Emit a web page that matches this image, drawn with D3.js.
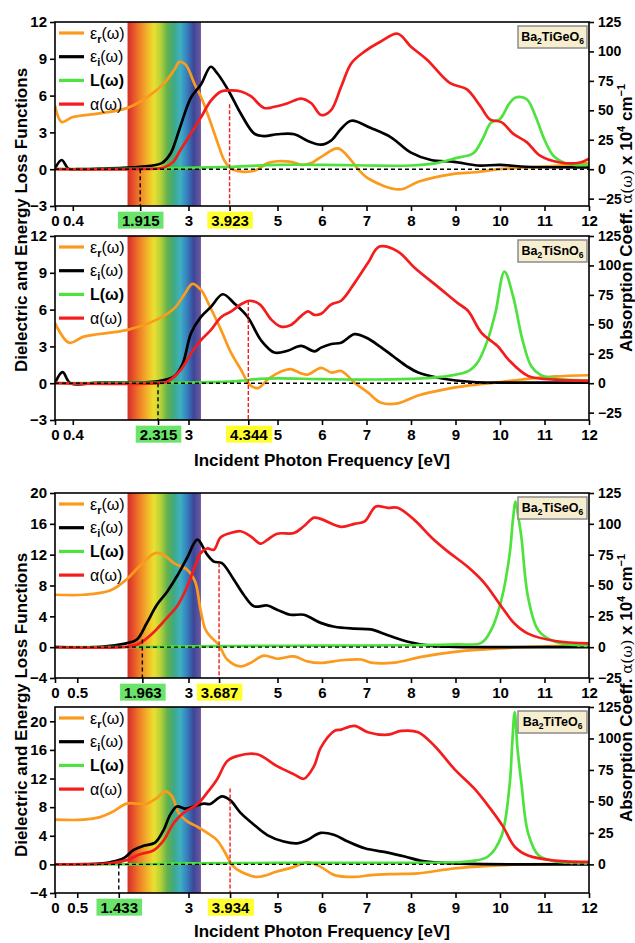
<!DOCTYPE html>
<html>
<head>
<meta charset="utf-8">
<script src="https://cdn.jsdelivr.net/npm/d3@7"></script>
<style>
  body { margin: 0; background: #fff; }
  text { font-family: Arial, "Liberation Sans", sans-serif; }
</style>
</head>
<body>
<div id="chart"></div>
<script>
// ---- data (x in eV; eps and L on left axis; alpha in 10^4 cm^-1 on right axis) ----
const geEr = [[0,5.2],[0.15,3.85],[0.4,4.25],[1.0,4.55],[1.63,5.0],[2.08,5.9],[2.45,7.0],[2.68,8.1],[2.8,8.75],[2.94,8.5],[3.13,7.0],[3.28,5.9],[3.43,4.5],[3.66,2.1],[3.8,0.75],[3.96,0.05],[4.2,-0.2],[4.5,-0.1],[4.78,0.5],[5.0,0.65],[5.3,0.6],[5.55,0.35],[5.76,0.5],[6.0,1.05],[6.36,1.7],[6.66,0.7],[6.8,0.05],[7.06,-0.8],[7.74,-1.65],[8.18,-1.0],[8.93,-0.4],[9.46,-0.25],[9.98,0.0],[11.2,0.25],[12,0.5]]
const geEi = [[0,0.05],[0.15,0.75],[0.3,0.05],[0.5,0],[1.0,0.05],[1.9,0.2],[2.4,0.5],[2.6,1.3],[2.8,3.3],[3.05,5.8],[3.28,6.9],[3.5,8.35],[3.65,7.8],[3.9,6.4],[4.18,4.5],[4.48,2.9],[4.7,2.7],[5.0,2.85],[5.38,2.85],[5.68,2.3],[5.98,2.0],[6.21,2.35],[6.43,3.3],[6.66,3.95],[7.1,3.35],[7.55,2.6],[8.0,1.35],[8.45,0.75],[8.97,0.6],[9.5,0.3],[10.0,0.35],[10.6,0.2],[12,0.15]]
const geL = [[0,0],[1,0.01],[2,0.03],[3,0.1],[4,0.2],[5,0.35],[6,0.35],[7,0.3],[8,0.3],[8.5,0.45],[9,0.9],[9.4,1.3],[9.6,2.4],[9.8,3.8],[10.0,4.1],[10.2,5.3],[10.35,5.85],[10.6,5.7],[10.8,4.3],[11.0,2.4],[11.2,1.1],[11.5,0.45],[12,0.35]]
const geA = [[0,0],[2.0,0.2],[2.45,1.5],[2.65,6],[2.83,17],[3.05,30],[3.28,44],[3.5,58],[3.73,66],[3.96,67],[4.18,66],[4.4,62],[4.7,52],[4.93,53],[5.23,56],[5.53,60],[5.76,56],[5.98,46],[6.2,50],[6.43,70],[6.66,90],[6.96,100],[7.3,108],[7.7,115],[8.0,104],[8.36,93],[8.88,73],[9.25,68],[9.55,54],[9.78,42],[10.03,40],[10.3,30],[10.6,23],[10.9,11.5],[11.35,5.7],[11.8,5.7],[12,9]]

const snEr = [[0,4.9],[0.32,3.3],[0.65,3.8],[1.63,4.35],[2.3,5.2],[2.68,6.1],[2.9,7.2],[3.09,8.1],[3.28,7.6],[3.5,6.1],[3.73,4.35],[3.96,2.45],[4.18,1.1],[4.37,-0.1],[4.56,-0.4],[4.78,0.3],[5.08,0.95],[5.3,1.15],[5.53,0.8],[5.68,0.7],[5.98,1.25],[6.21,0.87],[6.43,1.0],[6.73,0.05],[7.03,-0.75],[7.33,-1.6],[7.7,-1.65],[8.16,-1.0],[8.76,-0.5],[9.28,-0.2],[9.89,0.05],[10.49,0.3],[11.24,0.55],[12,0.65]]
const snEi = [[0,0],[0.17,0.9],[0.35,0],[1,0.05],[2.3,0.15],[2.68,0.55],[2.87,1.6],[3.06,4.1],[3.28,5.4],[3.5,6.2],[3.77,7.25],[4.03,6.5],[4.33,5.4],[4.63,3.5],[4.93,2.5],[5.23,2.65],[5.53,3.05],[5.83,2.6],[5.98,2.9],[6.21,3.2],[6.43,3.3],[6.73,4.0],[7.0,3.7],[7.3,3.0],[7.6,2.2],[7.9,1.4],[8.16,0.87],[8.7,0.38],[9.4,0.1],[10,0.05],[12,0.05]]
const snL = [[0,0],[2,0.02],[3,0.05],[4,0.15],[4.6,0.35],[5,0.4],[6,0.33],[7,0.3],[8.25,0.4],[8.85,0.6],[9.3,1.0],[9.5,1.7],[9.73,3.6],[9.9,5.8],[10.1,9.1],[10.3,7.0],[10.5,3.6],[10.7,1.4],[10.9,0.7],[11.24,0.38],[12,0.22]]
const snA = [[0,0],[2.3,0],[2.53,1.5],[2.83,11.5],[3.06,25.5],[3.28,36.5],[3.5,45],[3.73,56],[3.96,61],[4.18,67],[4.37,70],[4.6,67],[4.86,54],[5.08,48],[5.3,49.5],[5.53,57],[5.68,61],[5.83,58],[5.98,59],[6.21,67],[6.43,70],[6.73,85],[7.03,102],[7.29,116],[7.7,112],[8.08,98],[8.6,82],[9.05,68],[9.28,61.5],[9.58,43],[9.96,31],[10.19,20],[10.64,6],[11.24,3],[12,2]]

const seEr = [[0,6.8],[0.64,6.8],[1.24,7.36],[1.6,8.75],[1.9,10.5],[2.25,12.2],[2.44,12.0],[2.67,10.9],[2.97,10.05],[3.15,8.5],[3.27,4.85],[3.38,2.3],[3.49,1.4],[3.68,0.3],[3.87,-1.6],[4.17,-2.5],[4.39,-2.05],[4.69,-1.1],[4.99,-1.5],[5.37,-1.2],[5.67,-1.85],[5.97,-2.05],[6.43,-1.7],[6.88,-1.6],[7.1,-2.0],[7.63,-2.0],[8.23,-1.25],[8.98,-0.6],[9.73,-0.26],[10.5,0],[11.24,0.13],[12,0.25]]
const seEi = [[0,0],[1,0.05],[1.6,0.5],[1.84,1.0],[2.06,3.1],[2.29,5.5],[2.52,7.2],[2.74,9.2],[2.97,11.6],[3.2,13.95],[3.42,12.0],[3.57,11.1],[3.75,10.9],[4.02,8.75],[4.24,6.8],[4.47,5.3],[4.77,5.4],[4.99,4.86],[5.29,4.2],[5.59,4.2],[5.97,3.15],[6.28,2.65],[6.73,2.4],[7.1,2.3],[7.48,1.55],[7.93,0.7],[8.46,0.17],[8.98,0.05],[12,0]]
const seL = [[0,0],[2,0.02],[3.3,0.1],[4,0.15],[6,0.2],[8,0.25],[9,0.35],[9.58,0.55],[9.8,2.2],[10.03,6.1],[10.22,12.2],[10.29,16.5],[10.35,18.9],[10.41,17],[10.48,14.3],[10.63,6.5],[10.86,2.2],[11.24,0.7],[12,0.15]]
const seA = [[0,0],[1.7,0.6],[1.9,3],[2.2,11.5],[2.52,24],[2.74,33],[2.97,49],[3.15,66],[3.27,76],[3.42,80],[3.57,79],[3.72,89],[3.94,92.5],[4.17,94],[4.39,90],[4.62,84],[4.77,87],[4.99,92],[5.37,92.5],[5.59,98],[5.82,105],[5.97,104],[6.43,97.5],[6.73,100],[6.96,102],[7.21,114],[7.48,113],[7.7,113],[8.08,103],[8.46,89],[8.83,77.5],[9.28,65],[9.65,52],[10.03,33],[10.33,19],[10.63,11],[11.24,5],[12,3]]

const teEr = [[0,6.25],[0.64,6.25],[1.01,6.6],[1.31,7.4],[1.61,8.5],[1.84,8.5],[2.06,8.5],[2.29,9.3],[2.48,10.2],[2.63,9.5],[2.78,7.2],[2.97,6.0],[3.19,5.3],[3.42,4.4],[3.64,3.4],[3.83,1.55],[3.98,-0.1],[4.17,-1.0],[4.54,-1.75],[4.99,-1.0],[5.37,-0.35],[5.67,0.3],[5.97,-0.35],[6.28,-1.5],[6.73,-1.75],[7.1,-1.5],[7.63,-1.35],[8.16,-1.25],[8.98,-0.55],[9.73,-0.2],[10.5,0],[12,0.12]]
const teEi = [[0,0],[1.0,0.1],[1.24,0.3],[1.54,0.85],[1.76,2.0],[1.99,2.6],[2.25,3.05],[2.44,4.8],[2.59,6.95],[2.74,8.1],[2.93,7.8],[3.12,8.1],[3.34,8.5],[3.49,8.45],[3.75,9.5],[3.94,8.95],[4.17,7.2],[4.47,5.55],[4.77,4.1],[5.14,3.2],[5.44,2.95],[5.67,3.4],[5.97,4.4],[6.28,4.1],[6.58,3.2],[6.96,2.25],[7.48,1.65],[7.86,1.1],[8.23,0.5],[8.98,0.14],[12,0]]
const teL = [[0,0],[2,0.02],[3,0.15],[5,0.2],[7,0.2],[9,0.3],[9.36,0.45],[9.73,1.1],[10.03,3.9],[10.22,11.4],[10.27,16.4],[10.33,21.3],[10.39,16.4],[10.48,11.4],[10.63,4.4],[10.86,1.3],[11.24,0.4],[12,0.15]]
const teA = [[0,0],[1.24,0.9],[1.61,3.4],[1.91,8],[2.21,11],[2.44,19],[2.67,33],[2.89,41],[3.19,47.5],[3.42,57],[3.64,67.5],[3.87,82],[4.09,86],[4.54,87.5],[4.99,78],[5.37,71.5],[5.59,68],[5.82,78],[5.97,92.5],[6.28,106],[6.43,107],[6.73,110],[7.03,105],[7.48,103],[7.78,106],[8.16,105],[8.53,94],[8.98,75.5],[9.43,60],[9.8,43.5],[10.07,30],[10.33,14],[10.63,7],[11.24,3],[12,2]]

const compounds = ["Ba2TiGeO6", "Ba2TiSnO6", "Ba2TiSeO6", "Ba2TiTeO6"]
const gapValues = [1.915, 2.315, 1.963, 1.433]
const edgeValues = [3.923, 4.344, 3.687, 3.934]
const gapTops = [0, 0, 1.0, 0]
const edgeTops = [5.3, 6.7, 10.9, 10.6]
const leftTicks12 = [-3, 0, 3, 6, 9, 12]
const leftTicks20 = [-4, 0, 4, 8, 12, 16, 20]
const rightTicks = [-25, 0, 25, 50, 75, 100, 125]
const visibleBand = [1.63, 3.28]

const seriesNames = ["er", "ei", "L", "a"]
const colors = { er: "#fb9a1c", ei: "#000000", L: "#4ee23e", a: "#f41c1c" }

// ---- layout ----
const width = 635, height = 943
const svg = d3.select("#chart").append("svg")
    .attr("width", width)
    .attr("height", height)

const x = d3.scaleLinear().domain([0, 12]).range([55, 589])

const panels = [
    { top: 22, bottom: 206, yDom: [-3, 12], yTicks: leftTicks12, low: 0.4, data: { er: geEr, ei: geEi, L: geL, a: geA } },
    { top: 236, bottom: 420, yDom: [-3, 12], yTicks: leftTicks12, low: 0.4, data: { er: snEr, ei: snEi, L: snL, a: snA } },
    { top: 493, bottom: 678, yDom: [-4, 20], yTicks: leftTicks20, low: 0.5, data: { er: seEr, ei: seEi, L: seL, a: seA } },
    { top: 707, bottom: 893, yDom: [-4, 22], yTicks: leftTicks20, low: 0.5, data: { er: teEr, ei: teEi, L: teL, a: teA } }
]

// rainbow gradient
const defs = svg.append("defs")
const grad = defs.append("linearGradient").attr("id", "rainbow")
    .attr("x1", "0%").attr("x2", "100%").attr("y1", "0%").attr("y2", "0%")
const stops = [
    [0, "#cf3128"], [0.06, "#e4472a"], [0.17, "#ef8227"], [0.27, "#f2b42c"], [0.36, "#ebe02e"],
    [0.45, "#b6d23a"], [0.54, "#64b24a"], [0.63, "#3fa982"], [0.72, "#3eb0c2"], [0.81, "#3680bf"],
    [0.9, "#3b4797"], [1, "#7157a1"]
]
stops.forEach(([o, c]) => grad.append("stop").attr("offset", o).attr("stop-color", c))

const fmtMinus = d => d < 0 ? "\u2212" + Math.abs(d) : String(d)

panels.forEach((p, i) => {
    const y = d3.scaleLinear().domain(p.yDom).range([p.bottom, p.top])
    const rDom = [p.yDom[0] * 125 / p.yDom[1], 125]
    const yr = d3.scaleLinear().domain(rDom).range([p.bottom, p.top])
    const g = svg.append("g")

    defs.append("clipPath").attr("id", "clip" + i)
        .append("rect")
        .attr("x", x(0)).attr("y", p.top)
        .attr("width", x(12) - x(0)).attr("height", p.bottom - p.top)

    // visible spectrum band
    g.append("rect")
        .attr("x", x(visibleBand[0])).attr("y", p.top)
        .attr("width", x(visibleBand[1]) - x(visibleBand[0]))
        .attr("height", p.bottom - p.top)
        .attr("fill", "url(#rainbow)")

    const plot = g.append("g").attr("clip-path", `url(#clip${i})`)

    seriesNames.forEach(k => {
        const yy = k === "a" ? yr : y
        const line = d3.line()
            .x(d => x(d[0]))
            .y(d => yy(d[1]))
            .curve(d3.curveCatmullRom.alpha(0.5))
        plot.append("path")
            .datum(p.data[k])
            .attr("d", line)
            .attr("fill", "none")
            .attr("stroke", colors[k])
            .attr("stroke-width", 2.7)
            .attr("stroke-linejoin", "round")
    })

    // zero line
    plot.append("line")
        .attr("x1", x(0)).attr("x2", x(12))
        .attr("y1", y(0)).attr("y2", y(0))
        .attr("stroke", "#000").attr("stroke-width", 1.4)
        .attr("stroke-dasharray", "4,3")

    // marker lines
    plot.append("line")
        .attr("x1", x(gapValues[i])).attr("x2", x(gapValues[i]))
        .attr("y1", y(gapTops[i])).attr("y2", p.bottom)
        .attr("stroke", "#000").attr("stroke-width", 1.4)
        .attr("stroke-dasharray", "4,3")
    plot.append("line")
        .attr("x1", x(edgeValues[i])).attr("x2", x(edgeValues[i]))
        .attr("y1", y(edgeTops[i])).attr("y2", p.bottom)
        .attr("stroke", "#f41c1c").attr("stroke-width", 1.4)
        .attr("stroke-dasharray", "4,2")

    // frame
    g.append("rect")
        .attr("x", x(0)).attr("y", p.top)
        .attr("width", x(12) - x(0)).attr("height", p.bottom - p.top)
        .attr("fill", "none").attr("stroke", "#000").attr("stroke-width", 1.6)

    // axes
    const styleAxis = (sel, size) => {
        sel.select(".domain").remove()
        sel.selectAll(".tick line").attr("stroke-width", 1.6)
        sel.selectAll(".tick text")
            .attr("font-size", size + "px")
            .attr("font-weight", "bold")
            .attr("fill", "#000")
    }

    g.append("g")
        .attr("transform", `translate(${x(0)},0)`)
        .call(d3.axisLeft(y).tickValues(p.yTicks).tickSize(5).tickPadding(3).tickFormat(fmtMinus))
        .call(s => styleAxis(s, 15))

    const rt = rightTicks.filter(t => t >= rDom[0])
    g.append("g")
        .attr("transform", `translate(${x(12)},0)`)
        .call(d3.axisRight(yr).tickValues(rt).tickSize(5).tickPadding(4).tickFormat(fmtMinus))
        .call(s => styleAxis(s, 14))

    const xt = [0, p.low, gapValues[i], 3, edgeValues[i], 5, 6, 7, 8, 9, 10, 11, 12]
    const xa = g.append("g")
        .attr("transform", `translate(0,${p.bottom})`)
        .call(d3.axisBottom(x).tickValues(xt).tickSize(5).tickPadding(4).tickFormat(d => String(d)))
        .call(s => styleAxis(s, 15))

    // highlight boxes behind gap / edge labels
    xa.selectAll(".tick").each(function (d) {
        let fill = null
        if (d === gapValues[i]) fill = "#6ae46a"
        if (d === edgeValues[i]) fill = "#ffff2e"
        if (!fill) return
        const t = d3.select(this).select("text")
        const bb = t.node().getBBox()
        d3.select(this).insert("rect", "text")
            .attr("x", bb.x - 4).attr("y", bb.y)
            .attr("width", bb.width + 8).attr("height", bb.height)
            .attr("fill", fill)
    })

    // legend
    const legend = g.append("g").attr("transform", `translate(${x(0)},${p.top})`)
    const legItems = [
        { k: "er", sym: "\u03b5", sub: "r" },
        { k: "ei", sym: "\u03b5", sub: "i" },
        { k: "L", sym: "L", sub: null },
        { k: "a", sym: "\u03b1", sub: null }
    ]
    legItems.forEach((it, j) => {
        const ly = 11 + j * 23.7
        legend.append("line")
            .attr("x1", 4).attr("x2", 29)
            .attr("y1", ly).attr("y2", ly)
            .attr("stroke", colors[it.k]).attr("stroke-width", 3.2)
        const t = legend.append("text")
            .attr("x", 35).attr("y", ly + 5.5)
            .attr("font-size", "16px")
        t.append("tspan").attr("font-weight", it.k === "L" ? "bold" : "normal").text(it.sym)
        if (it.sub) {
            t.append("tspan").attr("font-weight", "bold").attr("font-size", "11px").attr("dy", 4).text(it.sub)
            t.append("tspan").attr("dy", -4).text("(\u03c9)")
        } else {
            t.append("tspan").attr("font-weight", it.k === "L" ? "bold" : "normal").text("(\u03c9)")
        }
    })

    // compound label
    const bx = 518, by = p.top + 4, bw = 69, bh = 22
    g.append("rect")
        .attr("x", bx).attr("y", by).attr("width", bw).attr("height", bh)
        .attr("fill", "#f7eecf").attr("stroke", "#8c8c8c").attr("stroke-width", 1.5)
    const ct = g.append("text")
        .attr("x", bx + bw / 2).attr("y", by + 15)
        .attr("text-anchor", "middle")
        .attr("font-size", "12.5px").attr("font-weight", "bold")
    compounds[i].match(/[A-Za-z]+|\d+/g).forEach(part => {
        if (/\d/.test(part)) {
            ct.append("tspan").attr("font-size", "8.5px").attr("dy", 3).text(part)
        } else {
            const ts = ct.append("tspan").text(part)
            if (ct.selectAll("tspan").size() > 1) ts.attr("dy", -3)
        }
    })
})

// axis titles (parts: [text, {shift, size, serif}])
function yTitle(cx, cy, parts) {
    const t = svg.append("text")
        .attr("transform", `translate(${cx},${cy}) rotate(-90)`)
        .attr("text-anchor", "middle")
        .attr("font-size", "17px").attr("font-weight", "bold")
    let cur = 0
    parts.forEach(([txt, opt = {}]) => {
        const shift = opt.shift || 0
        const s = t.append("tspan").text(txt)
        if (shift !== cur) s.attr("dy", shift - cur)
        cur = shift
        if (opt.size) s.attr("font-size", opt.size + "px")
        if (opt.serif) s.attr("font-weight", "normal").attr("font-family", "'DejaVu Serif', serif")
    })
}
;[220, 705].forEach(cy => yTitle(27, cy, [["Dielectric and Energy Loss Functions"]]))
;[218, 688].forEach(cy => yTitle(631.5, cy, [
    ["Absorption Coeff. "], ["\u03b1(\u03c9)", { serif: true, size: 15 }], [" x 10"],
    ["4", { shift: -7, size: 11 }], [" cm"], ["\u22121", { shift: -7, size: 11 }]
]))

;[466, 937].forEach(yy => svg.append("text")
    .attr("x", 322).attr("y", yy)
    .attr("text-anchor", "middle")
    .attr("font-size", "17px").attr("font-weight", "bold")
    .text("Incident Photon Frequency [eV]"))
</script>
</body>
</html>
